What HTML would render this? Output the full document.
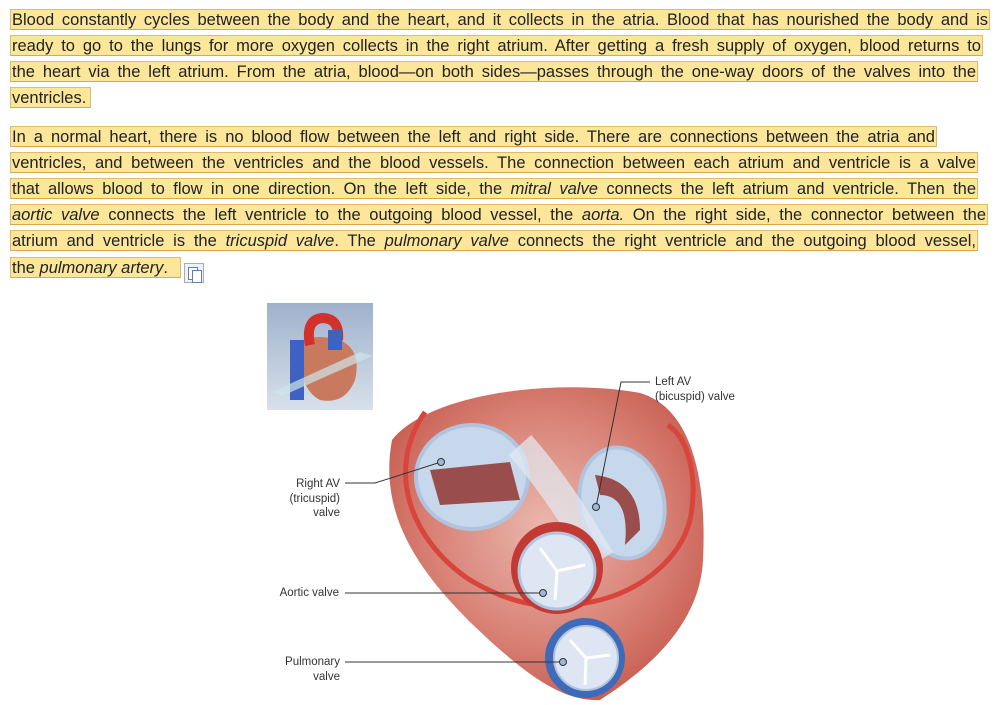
<!DOCTYPE html>
<html><head><meta charset="utf-8"><style>
body{margin:0;width:1000px;height:705px;background:#fff;position:relative;overflow:hidden;font-family:"Liberation Sans",sans-serif;}
.l{position:absolute;left:10px;height:21px;line-height:20px;font-size:16.5px;color:#222;background:#fbe69a;border:1px solid #e0bc6a;border-bottom:1.5px solid #d9a84a;box-sizing:border-box;white-space:nowrap;text-align:justify;text-align-last:justify;padding:0 1px;overflow:hidden}
.lab{position:absolute;font-size:11.5px;color:#333;line-height:14.5px}
</style></head><body>
<div class="l" style="top:9px;width:980px">Blood constantly cycles between the body and the heart, and it collects in the atria. Blood that has nourished the body and is</div>
<div class="l" style="top:35px;width:973px">ready to go to the lungs for more oxygen collects in the right atrium. After getting a fresh supply of oxygen, blood returns to</div>
<div class="l" style="top:61px;width:968px">the heart via the left atrium. From the atria, blood—on both sides—passes through the one-way doors of the valves into the</div>
<div class="l" style="top:87px;width:81px;text-align-last:left">ventricles.</div>
<div class="l" style="top:126px;width:927px">In a normal heart, there is no blood flow between the left and right side. There are connections between the atria and</div>
<div class="l" style="top:152px;width:968px">ventricles, and between the ventricles and the blood vessels. The connection between each atrium and ventricle is a valve</div>
<div class="l" style="top:178px;width:968px">that allows blood to flow in one direction. On the left side, the <i>mitral valve</i> connects the left atrium and ventricle. Then the</div>
<div class="l" style="top:204px;width:978px"><i>aortic valve</i> connects the left ventricle to the outgoing blood vessel, the <i>aorta.</i> On the right side, the connector between the</div>
<div class="l" style="top:230px;width:968px">atrium and ventricle is the <i>tricuspid valve</i>. The <i>pulmonary valve</i> connects the right ventricle and the outgoing blood vessel,</div>
<div class="l" style="top:257px;width:171px;text-align-last:left">the <i>pulmonary artery</i>.</div>
<div style="position:absolute;left:184px;top:263px;width:20px;height:20px;border:1px solid #aab;background:#eef2f8;box-sizing:border-box"><div style="position:absolute;left:3px;top:3px;width:8px;height:11px;border:1px solid #5a7fb0;background:#fff"></div><div style="position:absolute;left:7px;top:6px;width:8px;height:11px;border:1px solid #5a7fb0;background:#fff"></div></div>

<svg width="1000" height="705" style="position:absolute;left:0;top:0">
<defs><linearGradient id="bg" x1="0" y1="0" x2="0" y2="1"><stop offset="0" stop-color="#9fb2cc"/><stop offset="1" stop-color="#d8e0ea"/></linearGradient>
<radialGradient id="hm" cx="0.5" cy="0.45" r="0.6"><stop offset="0" stop-color="#eab8ae"/><stop offset="0.6" stop-color="#d98276"/><stop offset="1" stop-color="#c65a4e"/></radialGradient></defs>
<rect x="267" y="303" width="106" height="107" fill="url(#bg)"/>
<path d="M295 345 Q300 390 320 400 Q345 405 355 380 Q362 350 340 340 Q310 332 295 345Z" fill="#c97a5e"/>
<rect x="290" y="340" width="14" height="60" fill="#3d62c2"/>
<path d="M310 345 Q305 320 322 318 Q340 318 338 340" stroke="#d2312c" stroke-width="10" fill="none"/>
<rect x="328" y="330" width="14" height="20" fill="#3d62c2"/>
<path d="M272 392 L360 352 L372 356 L282 396Z" fill="#cde6ea" opacity="0.7"/>
<path d="M392 440 C430 392,560 378,640 393 C692 408,707 480,703 560 C700 620,655 665,600 700 C560 702,520 670,470 622 C420 572,378 515,392 440Z" fill="url(#hm)"/>
<path d="M425 412 C385 470,410 540,470 580 C520 610,560 610,600 600 C640 590,680 560,690 520 C698 480,690 440,668 425" stroke="#d8453c" stroke-width="5" fill="none"/>
<ellipse cx="472" cy="477" rx="56" ry="52" fill="#c8d8ec" stroke="#b0c4e0" stroke-width="4"/>
<path d="M430 470 L510 462 L520 500 L440 505Z" fill="#8e2a26" opacity="0.8"/>
<ellipse cx="622" cy="503" rx="42" ry="56" transform="rotate(-12 622 503)" fill="#c8d8ec" stroke="#b0c4e0" stroke-width="4"/>
<path d="M595 475 Q640 480,640 530 L625 545 Q630 495,600 495Z" fill="#8e2a26" opacity="0.8"/>
<path d="M520 445 Q560 490 600 560" stroke="#e3ebf3" stroke-width="30" fill="none" opacity="0.7"/>
<circle cx="557" cy="568" r="46" fill="#c13a33"/>
<circle cx="557" cy="571" r="38" fill="#dde6f2" stroke="#b0c4e0" stroke-width="3"/>
<path d="M557 571 L540 548 M557 571 L585 565 M557 571 L555 600" stroke="#fff" stroke-width="3"/>
<circle cx="585" cy="658" r="40" fill="#3f6ab8"/>
<circle cx="586" cy="658" r="32" fill="#dde6f2" stroke="#b0c4e0" stroke-width="2"/>
<path d="M586 658 L570 640 M586 658 L610 655 M586 658 L585 685" stroke="#fff" stroke-width="3"/>
<g stroke="#333" stroke-width="1" fill="none">
<polyline points="650,382 621,382 596,507"/>
<polyline points="345,483 375,483 441,462"/>
<line x1="345" y1="593" x2="543" y2="593"/>
<line x1="345" y1="662" x2="563" y2="662"/>
</g>
<g fill="#9fb8d8" stroke="#333" stroke-width="1">
<circle cx="596" cy="507" r="3.5"/><circle cx="441" cy="462" r="3.5"/><circle cx="543" cy="593" r="3.5"/><circle cx="563" cy="662" r="3.5"/>
</g>
</svg>
<div class="lab" style="left:655px;top:375px">Left AV<br>(bicuspid) valve</div>
<div class="lab" style="right:660px;top:477px;text-align:right">Right AV<br>(tricuspid)<br>valve</div>
<div class="lab" style="right:661px;top:586px;text-align:right">Aortic valve</div>
<div class="lab" style="right:660px;top:655px;text-align:right">Pulmonary<br>valve</div>
</body></html>
